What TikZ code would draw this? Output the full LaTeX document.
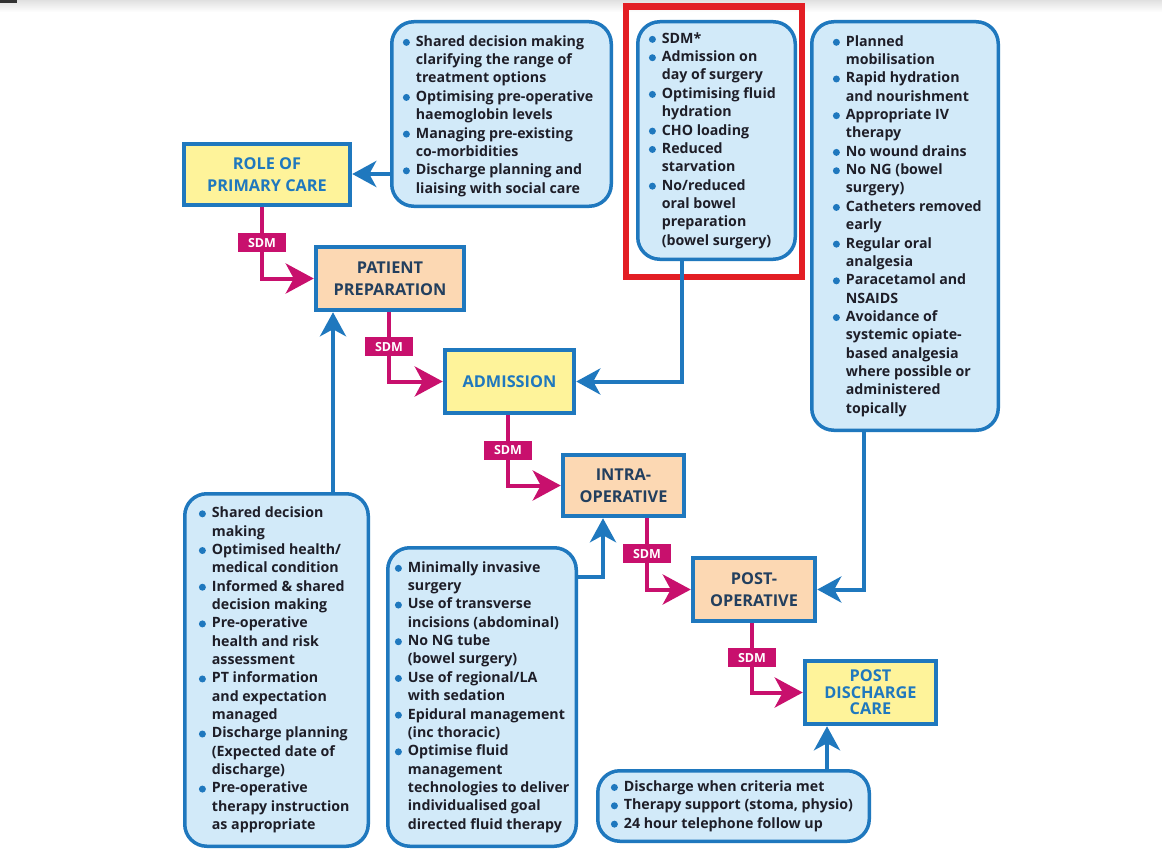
\documentclass[tikz,border=0pt]{standalone}
\usepackage{fontspec}
\setmainfont{Open Sans}
\usetikzlibrary{arrows.meta}

\definecolor{ecblue}{HTML}{1F78BE}
\definecolor{ecfill}{HTML}{D2EAF9}
\definecolor{ecyellow}{HTML}{FEF39A}
\definecolor{ecpeach}{HTML}{FCD8B3}
\definecolor{ecmag}{HTML}{C8106D}
\definecolor{ecnavy}{HTML}{233F5E}
\definecolor{ectext}{HTML}{1E1E28}
\definecolor{ecred}{HTML}{E31E24}

% bullet dot and continuation indent for the lists
\newcommand\bl{\makebox[13pt][l]{\tikz[baseline=-3.9pt]\fill[ecblue] (0pt,0pt) circle (3.5pt);}}
\newcommand\ind{\hspace*{13pt}}

\begin{document}
\begin{tikzpicture}[x=1pt,y=-1pt,
  stage/.style={draw=ecblue, line width=4.5pt, inner sep=0pt, align=center,
    font=\bfseries\fontsize{16.3}{22}\selectfont},
  ystage/.style={stage, fill=ecyellow, text=ecblue},
  pstage/.style={stage, fill=ecpeach, text=ecnavy},
  bbox/.style={draw=ecblue, fill=ecfill, line width=3.5pt, rounded corners=22pt, inner sep=0pt},
  btext/.style={anchor=west, align=left, inner sep=0pt, text=ectext,
    font=\bfseries\fontsize{14.2}{18.35}\selectfont},
  sdm/.style={fill=ecmag, text=white, inner sep=0pt, minimum width=48pt, minimum height=19pt,
    font=\bfseries\fontsize{12.5}{14}\selectfont},
  blueline/.style={draw=ecblue, line width=4pt, -{Stealth[length=24pt,width=26pt,inset=7pt]}},
  magline/.style={draw=ecmag, line width=4pt, -{Stealth[length=28pt,width=30pt,inset=8pt]}}]

\useasboundingbox[fill=white] (0,0) rectangle (1162,859);
\shade[top color=black!12, bottom color=white] (0,0) rectangle (1162,12);
\fill[black!80] (0,0) rectangle (17,3);

% stages
\node[ystage, minimum width=166pt, minimum height=61pt] (roc) at (267,174.5) {ROLE OF\\PRIMARY CARE};
\node[pstage, minimum width=148pt, minimum height=63pt] (pp) at (390,278.5) {PATIENT\\PREPARATION};
\node[ystage, minimum width=129pt, minimum height=63pt] (adm) at (509.5,381.5) {ADMISSION};
\node[pstage, minimum width=121pt, minimum height=61pt] (intra) at (623.5,485.5) {INTRA-\\OPERATIVE};
\node[pstage, minimum width=122pt, minimum height=63pt] (postop) at (754,589.5) {POST-\\OPERATIVE};
\node[ystage, minimum width=131pt, minimum height=63pt, font=\bfseries\fontsize{16.3}{16.5}\selectfont] (pdc) at (870.5,692.5) {POST\\DISCHARGE\\CARE};

% lists
\node[bbox, minimum width=219.5pt, minimum height=184.5pt] (boxA) at (501.5,114) {};
\node[btext] (txtA) at ([xshift=12.7pt,yshift=-2pt]boxA.west) {%
\bl Shared decision making\\
\ind clarifying the range of\\
\ind treatment options\\
\bl Optimising pre-operative\\
\ind haemoglobin levels\\
\bl Managing pre-existing\\
\ind co-morbidities\\
\bl Discharge planning and\\
\ind liaising with social care};

\node[bbox, minimum width=157.5pt, minimum height=237.5pt] (boxB) at (716.5,140.5) {};
\node[btext] (txtB) at ([xshift=12.7pt]boxB.west) {%
\bl SDM*\\
\bl Admission on\\
\ind day of surgery\\
\bl Optimising fluid\\
\ind hydration\\
\bl CHO loading\\
\bl Reduced\\
\ind starvation\\
\bl No/reduced\\
\ind oral bowel\\
\ind preparation\\
\ind (bowel surgery)};

\node[bbox, minimum width=186.5pt, minimum height=408.5pt] (boxC) at (905,226) {};
\node[btext] (txtC) at ([xshift=22.7pt]boxC.west) {%
\bl Planned\\
\ind mobilisation\\
\bl Rapid hydration\\
\ind and nourishment\\
\bl Appropriate IV\\
\ind therapy\\
\bl No wound drains\\
\bl No NG (bowel\\
\ind surgery)\\
\bl Catheters removed\\
\ind early\\
\bl Regular oral\\
\ind analgesia\\
\bl Paracetamol and\\
\ind NSAIDS\\
\bl Avoidance of\\
\ind systemic opiate-\\
\ind based analgesia\\
\ind where possible or\\
\ind administered\\
\ind topically};

\node[bbox, minimum width=183.5pt, minimum height=352.5pt] (boxD) at (276.5,670) {};
\node[btext] (txtD) at ([xshift=15.7pt]boxD.west) {%
\bl Shared decision\\
\ind making\\
\bl Optimised health/\\
\ind medical condition\\
\bl Informed \& shared\\
\ind decision making\\
\bl Pre-operative\\
\ind health and risk\\
\ind assessment\\
\bl PT information\\
\ind and expectation\\
\ind managed\\
\bl Discharge planning\\
\ind (Expected date of\\
\ind discharge)\\
\bl Pre-operative\\
\ind therapy instruction\\
\ind as appropriate};

\node[bbox, minimum width=188.5pt, minimum height=298.5pt] (boxE) at (482,697) {};
\node[btext] (txtE) at ([xshift=8.7pt]boxE.west) {%
\bl Minimally invasive\\
\ind surgery\\
\bl Use of transverse\\
\ind incisions (abdominal)\\
\bl No NG tube\\
\ind (bowel surgery)\\
\bl Use of regional/LA\\
\ind with sedation\\
\bl Epidural management\\
\ind (inc thoracic)\\
\bl Optimise fluid\\
\ind management\\
\ind technologies to deliver\\
\ind individualised goal\\
\ind directed fluid therapy};

\node[bbox, minimum width=271.5pt, minimum height=70.5pt] (boxF) at (733.5,806) {};
\node[btext] (txtF) at ([xshift=14.7pt]boxF.west) {%
\bl Discharge when criteria met\\
\bl Therapy support (stoma, physio)\\
\bl 24 hour telephone follow up};

% highlight frame
\draw[ecred, line width=6.5pt] (626,6.5) rectangle (802,277);

% list-to-stage connectors
\coordinate (ka) at (0,174);
\coordinate (kb) at (682,0);
\coordinate (kc) at (864,0);
\coordinate (kd) at (333,0);
\coordinate (ke) at (603,577);
\coordinate (kf) at (827,0);
\draw[blueline] (boxA.west |- ka) -- (roc.east |- ka);
\draw[blueline] (boxB.south -| kb) |- (adm.east);
\draw[blueline] (boxC.south -| kc) |- (postop.east);
\draw[blueline] (boxD.north -| kd) -- (pp.south -| kd);
\draw[blueline] (boxE.east |- ke) -| (intra.south -| ke);
\draw[blueline] (boxF.north -| kf) -- (pdc.south -| kf);

% stage-to-stage SDM connectors
\coordinate (m1) at (262,0);
\coordinate (m2) at (389,0);
\coordinate (m3) at (508,0);
\coordinate (m4) at (647,0);
\coordinate (m5) at (752,0);
\draw[magline] (roc.south -| m1) |- node[sdm, pos=0.25] (sdm1) {SDM} (pp.west);
\draw[magline] (pp.south -| m2) |- node[sdm, pos=0.25] (sdm2) {SDM} (adm.west);
\draw[magline] (adm.south -| m3) |- node[sdm, pos=0.25] (sdm3) {SDM} (intra.west);
\draw[magline] (intra.south -| m4) |- node[sdm, pos=0.25] (sdm4) {SDM} (postop.west);
\draw[magline] (postop.south -| m5) |- node[sdm, pos=0.25] (sdm5) {SDM} (pdc.west);
\end{tikzpicture}
\end{document}
